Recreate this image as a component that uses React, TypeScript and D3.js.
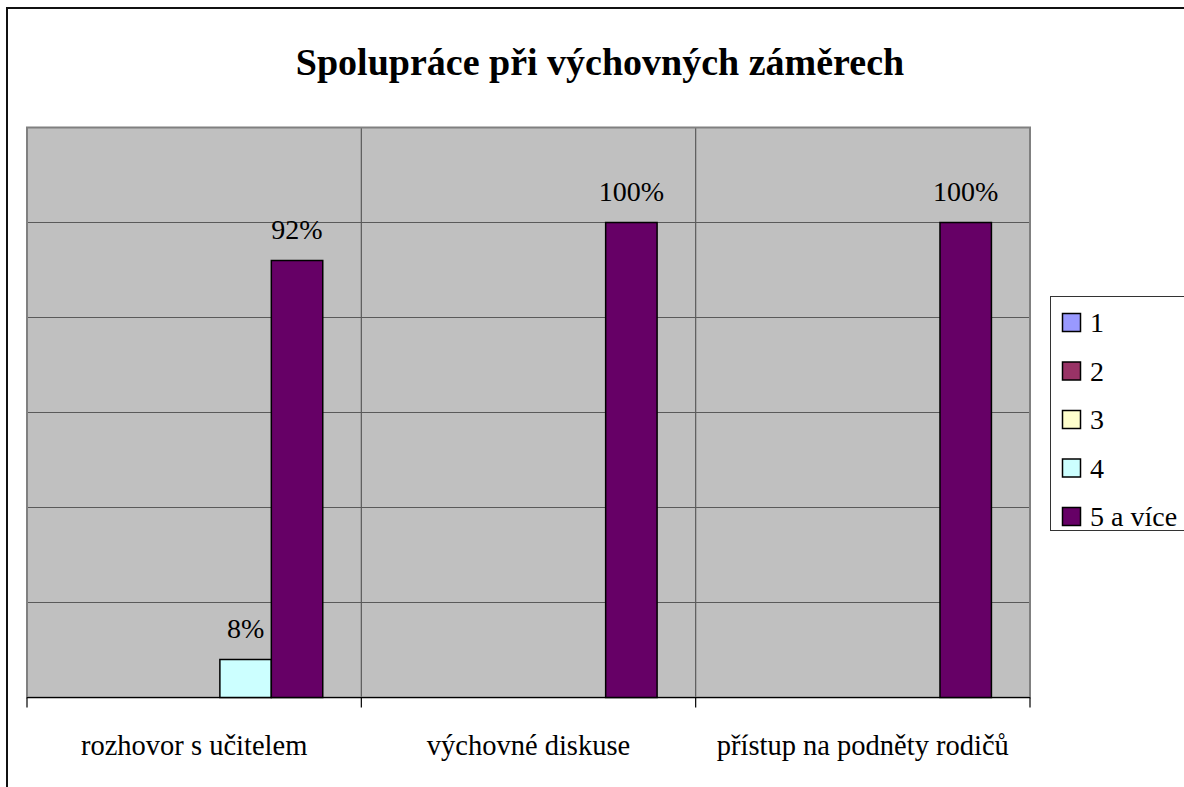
import React from "react";
import * as d3 from "d3";

const categories = ["rozhovor s učitelem", "výchovné diskuse", "přístup na podněty rodičů"];
const seriesNames = ["1", "2", "3", "4", "5 a více"];
const seriesColors = ["#9999FF", "#993366", "#FFFFCC", "#CCFFFF", "#660066"];
const series1 = [null, null, null];
const series2 = [null, null, null];
const series3 = [null, null, null];
const series4 = [8, null, null];
const series5 = [92, 100, 100];
const seriesValues: (number | null)[][] = [series1, series2, series3, series4, series5];
const yTicks = [20, 40, 60, 80, 100];

const W = 1184;
const H = 787;
const plot = { left: 27, right: 1030, top: 127.5, bottom: 697.5 };
const serif = '"Liberation Serif", "Times New Roman", Tinos, "DejaVu Serif", serif';

export default function App() {
  const x = d3
    .scaleBand<string>()
    .domain(categories)
    .range([plot.left, plot.right])
    .padding(0);
  const xInner = d3
    .scaleBand<string>()
    .domain(seriesNames)
    .range([0, x.bandwidth()])
    .paddingInner(0)
    .paddingOuter(0.75);
  const y = d3.scaleLinear().domain([0, 120]).range([plot.bottom, plot.top]);

  const boundaries = categories.map((c) => x(c)!).concat([plot.right]);
  const txt = { fontFamily: serif };

  return (
    <div style={{ position: "absolute", left: 0, top: 0 }}>
      <svg width={W} height={H} style={{ display: "block", background: "#fff" }}>
        {/* chart area border */}
        <rect x={7} y={8} width={1240} height={840} fill="#fff" stroke="#111" strokeWidth={2} />

        {/* title */}
        <text x={600} y={75} textAnchor="middle" style={txt} fontWeight="bold" fontSize={38} fill="#000">
          Spolupráce při výchovných záměrech
        </text>

        {/* plot area */}
        <rect
          x={plot.left}
          y={plot.top}
          width={plot.right - plot.left}
          height={plot.bottom - plot.top}
          fill="#C0C0C0"
        />
        {yTicks.map((t) => (
          <line
            key={t}
            x1={plot.left}
            x2={plot.right}
            y1={y(t)}
            y2={y(t)}
            stroke="#5a5a5a"
            strokeWidth={1.2}
          />
        ))}
        {boundaries.slice(1, -1).map((b, i) => (
          <line key={i} x1={b} x2={b} y1={plot.top} y2={plot.bottom} stroke="#5a5a5a" strokeWidth={1.2} />
        ))}
        <rect
          x={plot.left}
          y={plot.top}
          width={plot.right - plot.left}
          height={plot.bottom - plot.top}
          fill="none"
          stroke="#808080"
          strokeWidth={2}
        />

        {/* bars */}
        {seriesValues.map((vals, si) =>
          vals.map((v, ci) => {
            if (v === null) return null;
            const bx = x(categories[ci])! + xInner(seriesNames[si])!;
            return (
              <rect
                key={`${si}-${ci}`}
                x={bx}
                y={y(v)}
                width={xInner.bandwidth()}
                height={y(0) - y(v)}
                fill={seriesColors[si]}
                stroke="#000"
                strokeWidth={1.5}
              />
            );
          })
        )}

        {/* data labels */}
        {seriesValues.map((vals, si) =>
          vals.map((v, ci) => {
            if (v === null) return null;
            const cx = x(categories[ci])! + xInner(seriesNames[si])! + xInner.bandwidth() / 2;
            return (
              <text
                key={`l-${si}-${ci}`}
                x={cx}
                y={y(v) - 21.5}
                textAnchor="middle"
                style={txt}
                fontSize={28}
                fill="#000"
              >
                {`${v}%`}
              </text>
            );
          })
        )}

        {/* x axis */}
        <line x1={plot.left} x2={plot.right} y1={plot.bottom} y2={plot.bottom} stroke="#000" strokeWidth={1.2} />
        {boundaries.map((b, i) => (
          <line key={i} x1={b} x2={b} y1={plot.bottom} y2={plot.bottom + 10} stroke="#000" strokeWidth={1.2} />
        ))}
        {categories.map((c) => (
          <text
            key={c}
            x={x(c)! + x.bandwidth() / 2}
            y={755}
            textAnchor="middle"
            style={txt}
            fontSize={28.5}
            fill="#000"
          >
            {c}
          </text>
        ))}

        {/* legend */}
        <rect x={1050.5} y={296.5} width={200} height={234} fill="#fff" stroke="#333" strokeWidth={1} />
        {seriesNames.map((s, i) => {
          const cy = 322.5 + i * 48.5;
          return (
            <g key={s}>
              <rect
                x={1062.5}
                y={cy - 9}
                width={18}
                height={18}
                fill={seriesColors[i]}
                stroke="#000"
                strokeWidth={1.5}
              />
              <text x={1090} y={cy + 9.5} style={txt} fontSize={28} fill="#000">
                {s}
              </text>
            </g>
          );
        })}
      </svg>
    </div>
  );
}
